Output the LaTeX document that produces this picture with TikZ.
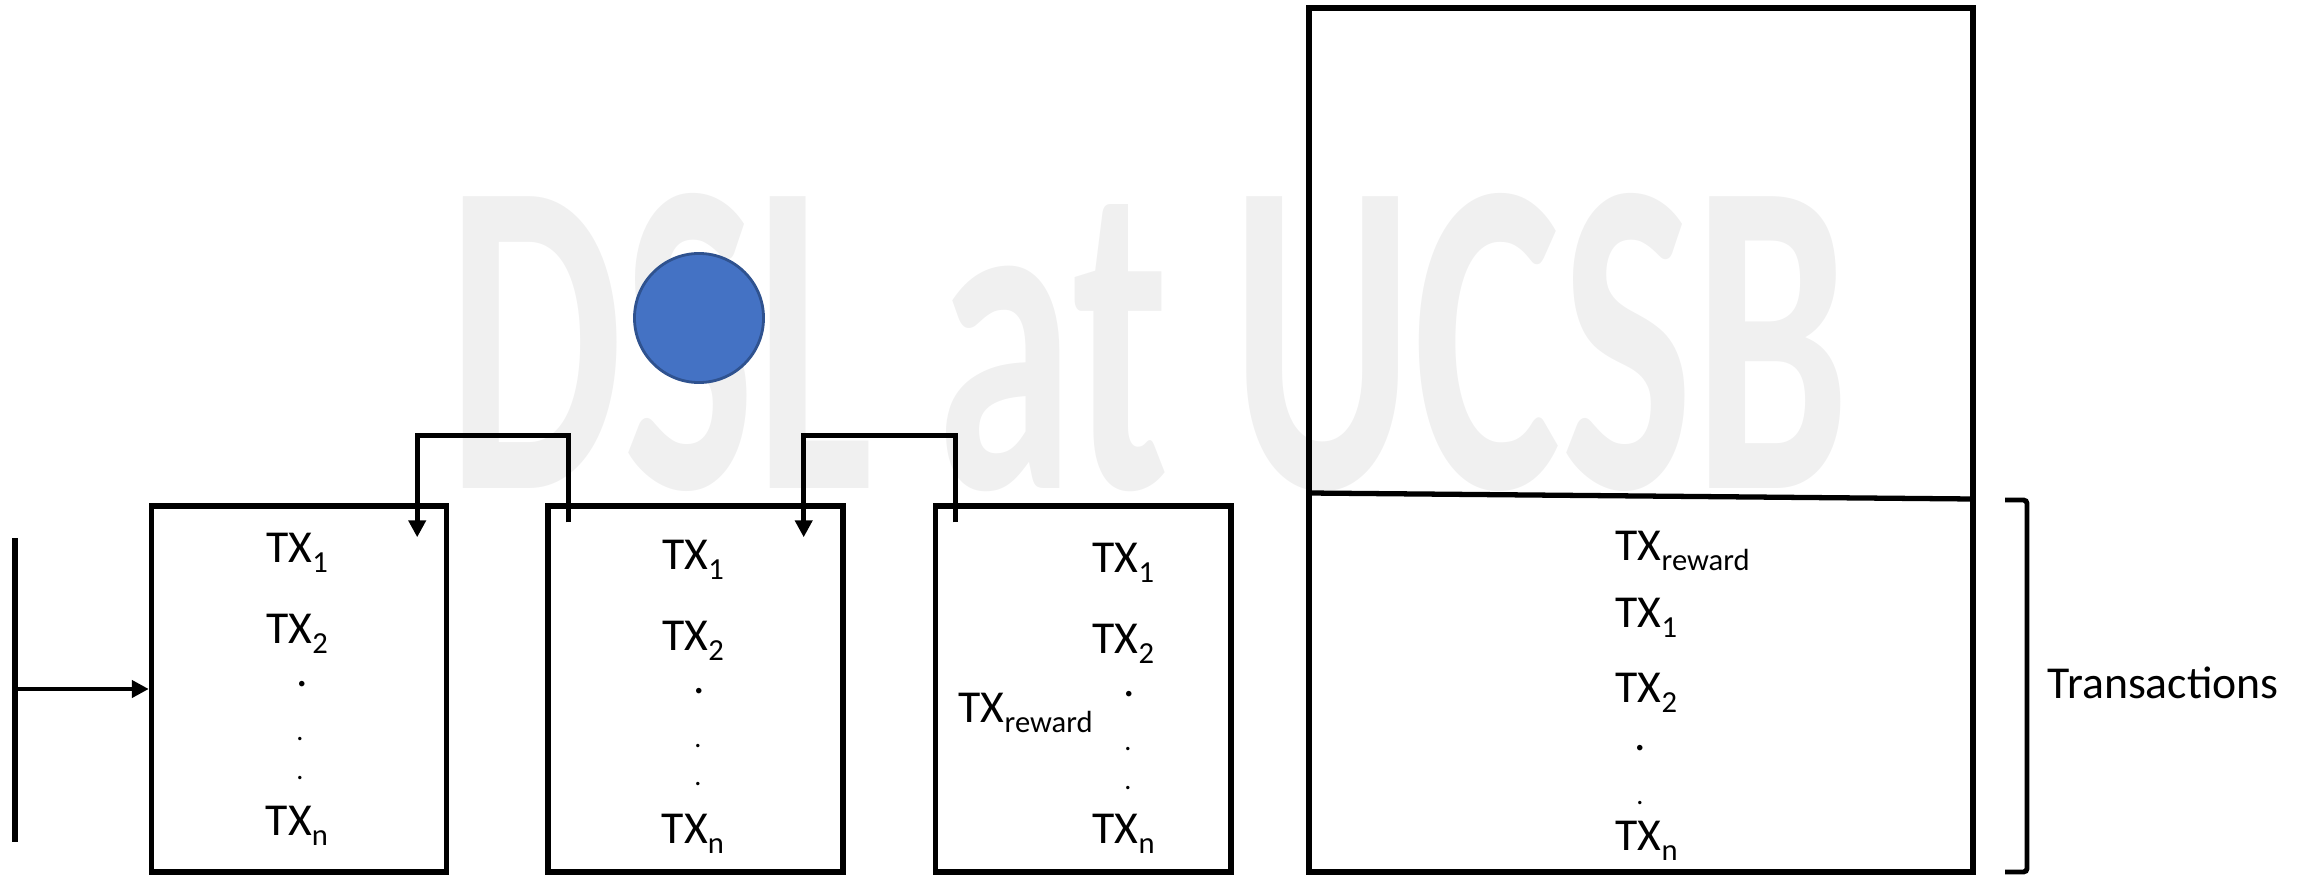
\documentclass[tikz,border=0pt]{standalone}
\usepackage{fontspec}
\setmainfont{Carlito}
\usepackage{graphicx}
\usepackage{tikz}
\usetikzlibrary{arrows.meta, positioning}

\definecolor{coinblue}{HTML}{4472C4}
\definecolor{coinedge}{HTML}{2F528F}
\definecolor{wmgray}{HTML}{F0F0F0}

\newcommand{\txs}[1]{\raisebox{-0.22em}{\fontsize{8.7}{10}\selectfont #1}}

\begin{document}
\begin{tikzpicture}[
            x=0.01cm, y=-0.01cm,
            >={Triangle[length=0.17cm, width=0.17cm]},
            blk/.style={rectangle, draw, line width=1.5pt, minimum width=2.95cm, minimum height=3.66cm},
            tx/.style={inner sep=0pt, font=\fontsize{13}{15}\selectfont},
            sdot/.style={inner sep=0pt, font=\fontsize{8}{9}\selectfont},
            link/.style={->, line width=1.4pt}
        ]
            \useasboundingbox (0,0) rectangle (2321,876);
            % watermark
            \node[anchor=base west, inner sep=0pt, text=wmgray, font=\fontsize{128}{128}\selectfont\bfseries] (wm) at (447,488) {\scalebox{0.62}[1]{DSL at UCSB}};
            % blocks
            \node[blk] (b1) at (299,689) {};
            \node[blk, right=0.96cm of b1] (b2) {};
            \node[blk, right=0.874cm of b2] (b3) {};
            \node[blk, line width=1.7pt, minimum width=6.64cm, minimum height=8.64cm] (big) at (1641,440) {};
            \coordinate (dl) at (1309,493);
            \coordinate (dr) at (1973,499);
            \draw[line width=1.5pt] (dl) -- (dr);
            \node[circle, fill=coinblue, draw=coinedge, line width=0.8pt, minimum size=1.29cm, inner sep=0pt] (coin) at (699,318) {};
            % block 1
            \node[tx, anchor=base] (b1t1) at (297,562) {TX\txs{1}};
            \node[tx, anchor=base] (b1t2) at (297,643) {TX\txs{2}};
            \node[tx, anchor=base] (b1d1) at (302,686) {.};
            \node[sdot, anchor=base] (b1d2) at (300,740) {.};
            \node[sdot, anchor=base] (b1d3) at (300,779) {.};
            \node[tx, anchor=base] (b1tn) at (297,835) {TX\txs{n}};
            % block 2
            \node[tx, anchor=base] (b2t1) at (693,569) {TX\txs{1}};
            \node[tx, anchor=base] (b2t2) at (693,650) {TX\txs{2}};
            \node[tx, anchor=base] (b2d1) at (699,693) {.};
            \node[sdot, anchor=base] (b2d2) at (698,747) {.};
            \node[sdot, anchor=base] (b2d3) at (698,785) {.};
            \node[tx, anchor=base] (b2tn) at (693,843) {TX\txs{n}};
            % block 3
            \node[tx, anchor=base west] (b3t1) at (1092,572) {TX\txs{1}};
            \node[tx, anchor=base west] (b3t2) at (1092,653) {TX\txs{2}};
            \node[tx, anchor=base west] (b3tr) at (958,722) {TX\txs{reward}};
            \node[tx, anchor=base] (b3d1) at (1129,696) {.};
            \node[sdot, anchor=base] (b3d2) at (1128,750) {.};
            \node[sdot, anchor=base] (b3d3) at (1128,789) {.};
            \node[tx, anchor=base west] (b3tn) at (1092,843) {TX\txs{n}};
            % big block
            \node[tx, anchor=base west] (btr) at (1615,560) {TX\txs{reward}};
            \node[tx, anchor=base west] (bt1) at (1615,627) {TX\txs{1}};
            \node[tx, anchor=base west] (bt2) at (1615,702) {TX\txs{2}};
            \node[tx, anchor=base] (bd1) at (1640,750) {.};
            \node[sdot, anchor=base] (bd2) at (1640,804) {.};
            \node[tx, anchor=base west] (btn) at (1615,850) {TX\txs{n}};
            % bracket and label
            \draw[line width=1.4pt, rounded corners=1pt] (2005,500) -- (2027,500) -- (2027,872) -- (2005,872);
            \node[tx, anchor=base west] (trans) at (2047,698) {Transactions};
            % start bar
            \coordinate (bt) at (15,538);
            \coordinate (bb) at (15,842);
            \coordinate (src) at (15,689);
            \draw[line width=1.5pt] (bt) -- (bb);
            \draw[link] (src) -- (b1.west);
            % back links
            \coordinate (p2) at ([xshift=0.23cm, yshift=-0.19cm]b2.north west);
            \coordinate (e1) at ([xshift=-0.32cm, yshift=-0.34cm]b1.north east);
            \draw[link] (p2) -- ++(0,-87) -| (e1);
            \coordinate (p3) at ([xshift=0.22cm, yshift=-0.19cm]b3.north west);
            \coordinate (e2) at ([xshift=-0.42cm, yshift=-0.34cm]b2.north east);
            \draw[link] (p3) -- ++(0,-87) -| (e2);
        \end{tikzpicture}
\end{document}
